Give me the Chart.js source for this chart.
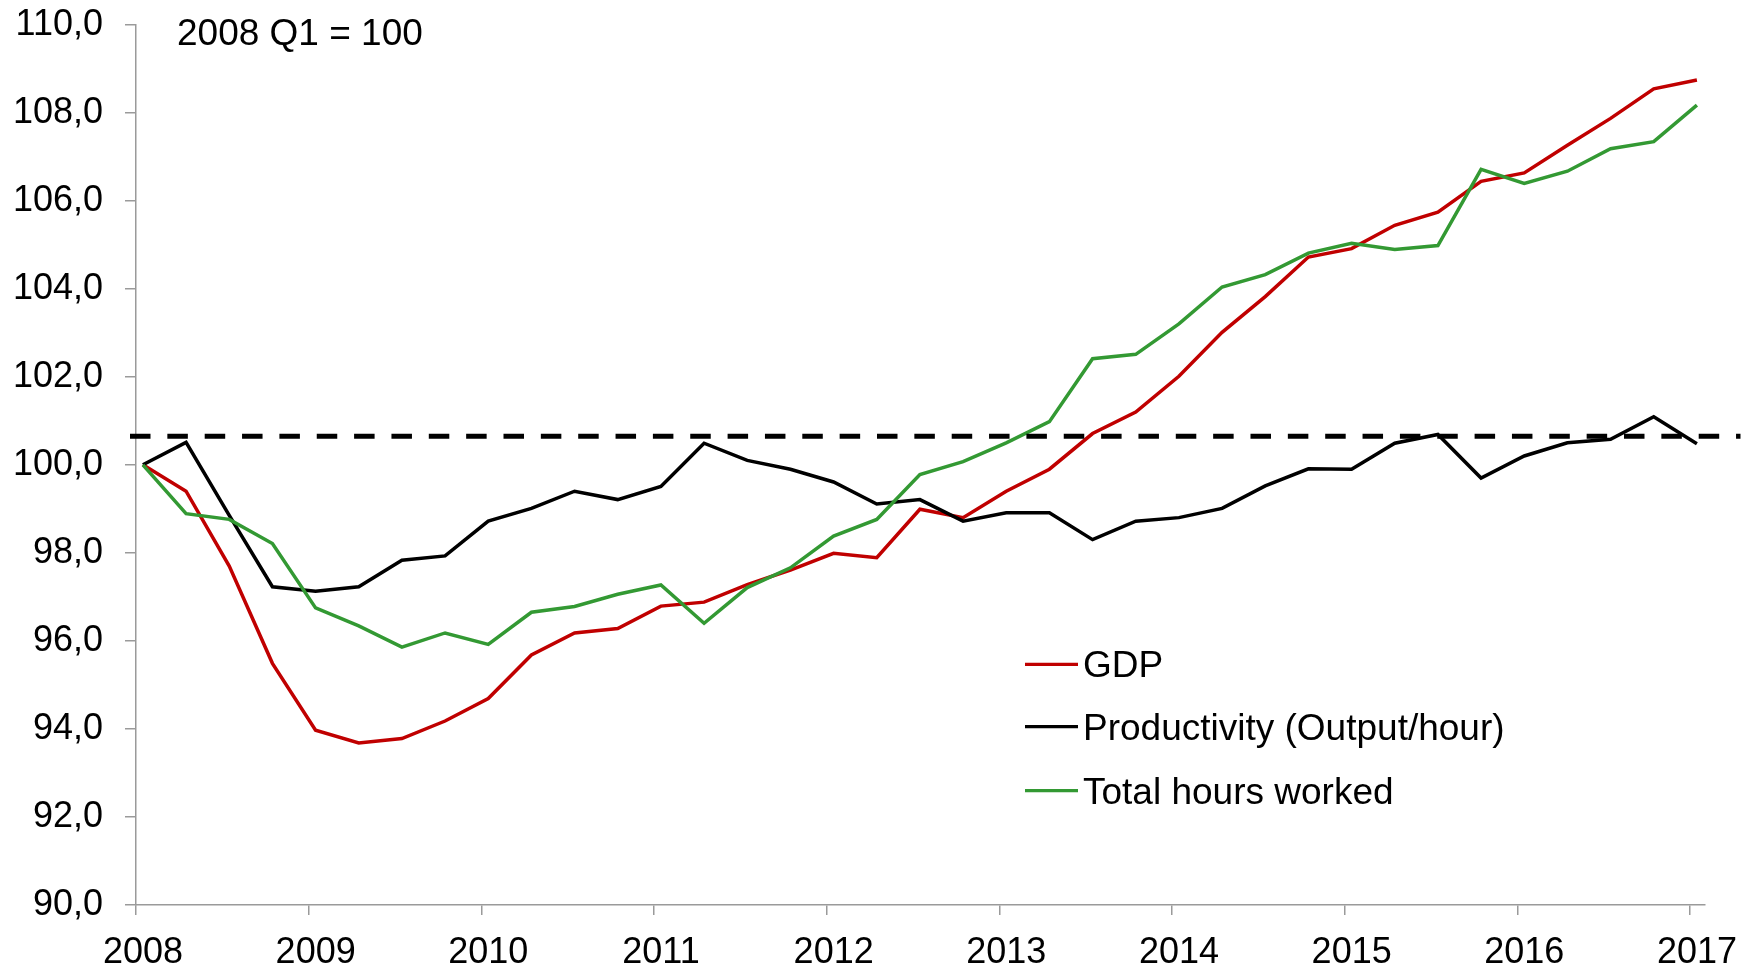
<!DOCTYPE html>
<html>
<head>
<meta charset="utf-8">
<script src="https://cdn.jsdelivr.net/npm/chart.js@4.4.1/dist/chart.umd.min.js"></script>
<style>
  html, body { margin: 0; padding: 0; background: #ffffff; }
  #wrap { width: 1756px; height: 967px; }
</style>
</head>
<body>
<div id="wrap"><canvas id="c" width="1756" height="967"></canvas></div>
<script>
// ---- Data (2008 Q1 = 100), quarterly 2008 Q1 .. 2017 Q1 ----
const seriesNames = ['GDP', 'Productivity (Output/hour)', 'Total hours worked'];
const annotationText = '2008 Q1 = 100';
const referenceLevel = 100.65;

const gdp = [
  100.0, 99.40, 97.70, 95.49, 93.97, 93.68, 93.78, 94.18,
  94.69, 95.68, 96.18, 96.28, 96.79, 96.88, 97.28, 97.61,
  97.99, 97.89, 98.99, 98.80, 99.40, 99.90, 100.71, 101.20,
  102.01, 103.01, 103.82, 104.72, 104.91, 105.44, 105.74, 106.44,
  106.63, 107.26, 107.87, 108.54, 108.74
];
const productivity = [
  100.0, 100.51, 98.85, 97.23, 97.13, 97.23, 97.83, 97.93,
  98.72, 99.01, 99.40, 99.21, 99.51, 100.49, 100.10, 99.90,
  99.61, 99.11, 99.21, 98.72, 98.91, 98.91, 98.30, 98.72,
  98.80, 99.01, 99.52, 99.91, 99.90, 100.49, 100.69, 99.70,
  100.20, 100.50, 100.58, 101.09, 100.48
];
const hoursWorked = [
  100.0, 98.89, 98.76, 98.21, 96.75, 96.34, 95.86, 96.18,
  95.92, 96.65, 96.78, 97.06, 97.27, 96.40, 97.21, 97.66,
  98.38, 98.76, 99.78, 100.07, 100.50, 100.98, 102.41, 102.51,
  103.20, 104.04, 104.32, 104.81, 105.03, 104.89, 104.98, 106.71,
  106.39, 106.67, 107.18, 107.34, 108.17
];
const yearTicks = [2008, 2009, 2010, 2011, 2012, 2013, 2014, 2015, 2016, 2017];
const startYear = 2008;

// time position of each quarter (plotted mid first month of quarter)
const quarterPos = gdp.map((_, i) => startYear + i / 4 + 0.04);
const toPoints = arr => arr.map((v, i) => ({ x: quarterPos[i], y: v }));

const FONT = "'Liberation Sans', Arial, Helvetica, sans-serif";
const AXIS_GRAY = '#9a9a9a';
const colors = ['#C00000', '#000000', '#339933'];

const overlayPlugin = {
  id: 'overlay',
  afterDatasetsDraw(chart) {
    const ctx = chart.ctx;
    const ca = chart.chartArea;
    const y = chart.scales.y.getPixelForValue(referenceLevel);
    ctx.save();
    // dashed reference line
    ctx.beginPath();
    ctx.setLineDash([20.5, 16.85]);
    ctx.lineWidth = 5;
    ctx.strokeStyle = '#000000';
    ctx.moveTo(ca.left - 6, y);
    ctx.lineTo(ca.right + 36, y);
    ctx.stroke();
    ctx.setLineDash([]);
    ctx.restore();
  },
  afterDraw(chart) {
    const ctx = chart.ctx;
    const ca = chart.chartArea;
    ctx.save();
    ctx.fillStyle = '#000000';
    ctx.font = '37px ' + FONT;
    ctx.textAlign = 'left';
    ctx.textBaseline = 'alphabetic';
    // annotation
    ctx.fillText(annotationText, ca.left + 41, ca.top + 20);
    // legend
    const lx = ca.left + 889;
    const rows = [664.3, 726.7, 790.7];
    chart.data.datasets.forEach((ds, i) => {
      const ry = rows[i];
      ctx.beginPath();
      ctx.lineWidth = 3.3;
      ctx.strokeStyle = ds.borderColor;
      ctx.moveTo(lx, ry);
      ctx.lineTo(lx + 53, ry);
      ctx.stroke();
      ctx.fillText(ds.label, lx + 58, ry + 13);
    });
    ctx.restore();
  }
};

new Chart(document.getElementById('c'), {
  type: 'line',
  data: {
    datasets: [
      { label: seriesNames[0], data: toPoints(gdp), borderColor: colors[0], order: 2 },
      { label: seriesNames[1], data: toPoints(productivity), borderColor: colors[1], order: 1 },
      { label: seriesNames[2], data: toPoints(hoursWorked), borderColor: colors[2], order: 0 }
    ]
  },
  options: {
    responsive: false,
    animation: false,
    devicePixelRatio: 1,
    parsing: false,
    elements: {
      line: { borderWidth: 3.5, tension: 0, fill: false, borderCapStyle: 'butt', borderJoinStyle: 'miter' },
      point: { radius: 0, hoverRadius: 0 }
    },
    layout: { padding: { left: 0, right: 51.5, top: 24.6, bottom: 0 } },
    plugins: { legend: { display: false }, tooltip: { enabled: false }, title: { display: false } },
    scales: {
      x: {
        type: 'linear',
        min: 2008,
        max: 2017.084,
        afterBuildTicks: s => { s.ticks = yearTicks.map(v => ({ value: v })); },
        afterFit: s => { s.height = 62; s.paddingLeft = 0; s.paddingRight = 0; },
        grid: { display: true, drawOnChartArea: false, drawTicks: true, tickLength: 10, color: AXIS_GRAY, lineWidth: 1.5 },
        border: { display: true, color: AXIS_GRAY, width: 1.5 },
        ticks: {
          autoSkip: false,
          maxRotation: 0,
          padding: 16,
          labelOffset: 7,
          color: '#000000',
          font: { family: FONT, size: 36 },
          callback: v => String(v)
        }
      },
      y: {
        type: 'linear',
        min: 90,
        max: 110,
        afterFit: s => { s.width = 136; s.paddingTop = 0; s.paddingBottom = 0; },
        grid: { display: true, drawOnChartArea: false, drawTicks: true, tickLength: 11, color: AXIS_GRAY, lineWidth: 1.5 },
        border: { display: true, color: AXIS_GRAY, width: 1.5 },
        ticks: {
          stepSize: 2,
          padding: 22,
          color: '#000000',
          font: { family: FONT, size: 36 },
          callback: v => v.toFixed(1).replace('.', ',')
        }
      }
    }
  },
  plugins: [overlayPlugin]
});
</script>
</body>
</html>
